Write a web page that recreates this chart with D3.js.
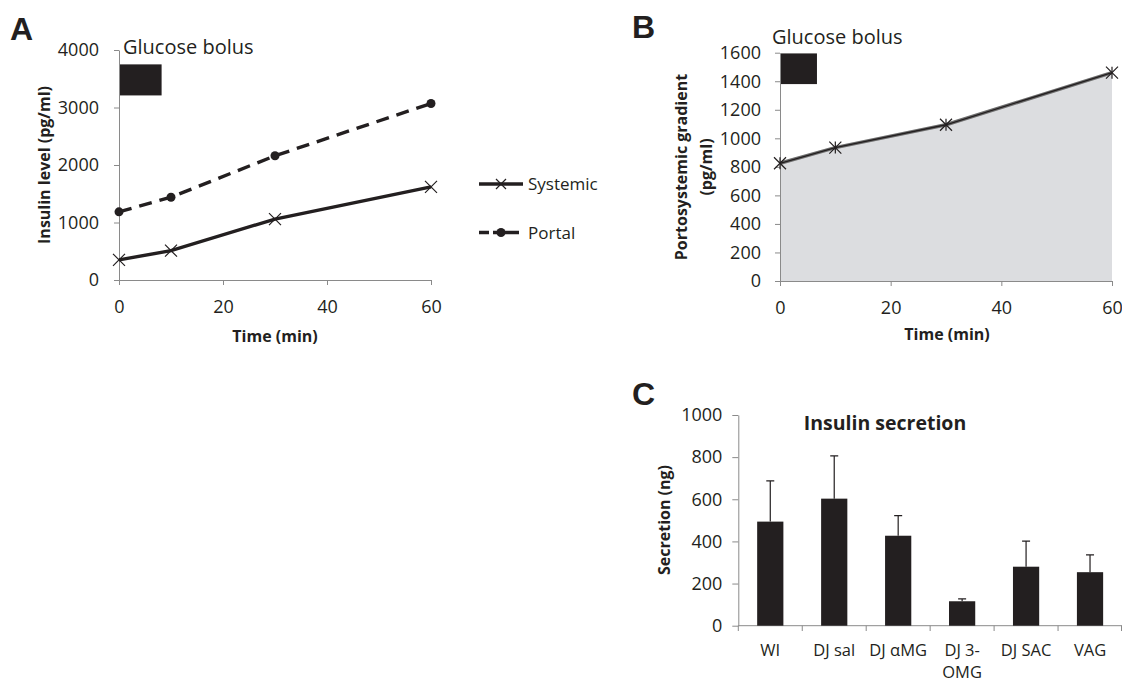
<!DOCTYPE html>
<html>
<head>
<meta charset="utf-8">
<script src="https://cdn.jsdelivr.net/npm/d3@7"></script>
<style>
  body { margin: 0; background: #fff; }
  svg { display: block; font-family: "Open Sans", sans-serif; }
  .axis path, .axis line { stroke: #8a8a8a; }
  .axis text { fill: #231f20; }
</style>
</head>
<body>
<svg id="chart" width="1122" height="683"></svg>
<script>
// Panel A data: insulin level over time
const timesA = [0, 10, 30, 60];
const systemic = [350, 510, 1060, 1620];
const portal = [1185, 1440, 2160, 3070];
const ticksA_y = [0, 1000, 2000, 3000, 4000];
const ticksTime = [0, 20, 40, 60];

// Panel B data: portosystemic gradient
const timesB = [0, 10, 30, 60];
const gradient = [825, 935, 1095, 1460];
const ticksB_y = [0, 200, 400, 600, 800, 1000, 1200, 1400, 1600];

// Panel C data: insulin secretion
const groups = ["WI", "DJ sal", "DJ \u03b1MG", "DJ 3-OMG", "DJ SAC", "VAG"];
const secretion = [494, 603, 427, 116, 280, 254];
const secretionErr = [193, 203, 95, 11, 121, 82];
const ticksC_y = [0, 200, 400, 600, 800, 1000];

// glucose bolus bars [start min, end min, bottom, top]
const bolusA = [0, 8, 3210, 3750];
const bolusB = [0, 6.5, 1380, 1595];

const svg = d3.select("#chart");
const ink = "#231f20";
const plain = d3.format("d");

// panel letters
svg.selectAll(".letter")
    .data([["A", 10, 40], ["B", 632, 38], ["C", 632, 405]])
    .join("text")
    .attr("x", d => d[1]).attr("y", d => d[2])
    .attr("font-family", "Liberation Sans, Arial, sans-serif")
    .attr("font-weight", "bold").attr("font-size", 32)
    .attr("fill", ink)
    .text(d => d[0]);

function styleAxis(g, size) {
    g.attr("class", "axis");
    g.selectAll("text").attr("font-size", size).attr("font-family", "Open Sans, sans-serif");
    g.select(".domain").attr("stroke", "#8a8a8a");
}

// x marker helper
function drawX(g, pts, r) {
    g.selectAll(null).data(pts).join("path")
        .attr("d", d => `M${d[0]-r},${d[1]-r}L${d[0]+r},${d[1]+r}M${d[0]-r},${d[1]+r}L${d[0]+r},${d[1]-r}`)
        .attr("stroke", ink).attr("stroke-width", 1.2).attr("fill", "none");
}

// ---------------- Panel A ----------------
const gA = svg.append("g");
const xA = d3.scaleLinear().domain([0, 60]).range([119, 431]);
const yA = d3.scaleLinear().domain([0, 4000]).range([280, 50]);

gA.append("g").attr("transform", "translate(0,280)")
    .call(d3.axisBottom(xA).tickValues(ticksTime).tickSize(5).tickPadding(15).tickSizeOuter(0).tickFormat(plain))
    .call(g => styleAxis(g, 18));
gA.append("g").attr("transform", "translate(119,0)")
    .call(d3.axisLeft(yA).tickValues(ticksA_y).tickSize(5).tickPadding(15).tickSizeOuter(0).tickFormat(plain))
    .call(g => styleAxis(g, 18));

gA.append("rect")
    .attr("x", xA(bolusA[0]) + 1).attr("y", yA(bolusA[3]))
    .attr("width", xA(bolusA[1]) - xA(bolusA[0])).attr("height", yA(bolusA[2]) - yA(bolusA[3]))
    .attr("fill", ink);
gA.append("text").attr("x", 123).attr("y", 54).attr("font-size", 20).attr("fill", ink).text("Glucose bolus");

const lineA = d3.line().x(d => xA(d[0])).y(d => yA(d[1]));
const sysPts = timesA.map((t, i) => [t, systemic[i]]);
const porPts = timesA.map((t, i) => [t, portal[i]]);

gA.append("path").datum(porPts).attr("d", lineA)
    .attr("fill", "none").attr("stroke", ink).attr("stroke-width", 3.4)
    .attr("stroke-dasharray", "13,8");
gA.selectAll(".dot").data(porPts).join("circle")
    .attr("cx", d => xA(d[0])).attr("cy", d => yA(d[1])).attr("r", 4.5).attr("fill", ink);

gA.append("path").datum(sysPts).attr("d", lineA)
    .attr("fill", "none").attr("stroke", ink).attr("stroke-width", 3.4);
drawX(gA, sysPts.map(d => [xA(d[0]), yA(d[1])]), 6);

gA.append("text").attr("transform", "translate(50,165) rotate(-90)")
    .attr("text-anchor", "middle").attr("font-weight", "bold").attr("font-size", 16).attr("fill", ink)
    .text("Insulin level (pg/ml)");
gA.append("text").attr("x", 275).attr("y", 342)
    .attr("text-anchor", "middle").attr("font-weight", "bold").attr("font-size", 16).attr("fill", ink)
    .text("Time (min)");

// legend
const leg = gA.append("g");
leg.append("line").attr("x1", 479).attr("x2", 523).attr("y1", 184).attr("y2", 184)
    .attr("stroke", ink).attr("stroke-width", 3.4);
drawX(leg, [[501, 184]], 5);
leg.append("text").attr("x", 528).attr("y", 190).attr("font-size", 17).attr("fill", ink).text("Systemic");
leg.append("line").attr("x1", 479).attr("x2", 519).attr("y1", 232.5).attr("y2", 232.5)
    .attr("stroke", ink).attr("stroke-width", 3.4).attr("stroke-dasharray", "10,4,40");
leg.append("circle").attr("cx", 501).attr("cy", 232.5).attr("r", 4.5).attr("fill", ink);
leg.append("text").attr("x", 528).attr("y", 239).attr("font-size", 17).attr("fill", ink).text("Portal");

// ---------------- Panel B ----------------
const gB = svg.append("g");
const xB = d3.scaleLinear().domain([0, 60]).range([780, 1112]);
const yB = d3.scaleLinear().domain([0, 1600]).range([281, 52.7]);
const gradPts = timesB.map((t, i) => [t, gradient[i]]);

gB.append("path").datum(gradPts)
    .attr("d", d3.area().x(d => xB(d[0])).y0(yB(0)).y1(d => yB(d[1])))
    .attr("fill", "#dcdde0");

gB.append("g").attr("transform", "translate(0,281)")
    .call(d3.axisBottom(xB).tickValues(ticksTime).tickSize(5).tickPadding(15).tickSizeOuter(0).tickFormat(plain))
    .call(g => styleAxis(g, 18));
gB.append("g").attr("transform", "translate(780,0)")
    .call(d3.axisLeft(yB).tickValues(ticksB_y).tickSize(5).tickPadding(14).tickSizeOuter(0).tickFormat(plain))
    .call(g => styleAxis(g, 18));

gB.append("rect")
    .attr("x", xB(bolusB[0]) + 1).attr("y", yB(bolusB[3]))
    .attr("width", xB(bolusB[1]) - xB(bolusB[0])).attr("height", yB(bolusB[2]) - yB(bolusB[3]))
    .attr("fill", ink);
gB.append("text").attr("x", 772).attr("y", 44).attr("font-size", 20).attr("fill", ink).text("Glucose bolus");

const lineB = d3.line().x(d => xB(d[0])).y(d => yB(d[1]));
gB.append("path").datum(gradPts).attr("d", lineB)
    .attr("fill", "none").attr("stroke", "#6d6d6d").attr("stroke-width", 3.5);
gB.append("path").datum(gradPts).attr("d", lineB)
    .attr("fill", "none").attr("stroke", ink).attr("stroke-width", 1.3);
const bPx = gradPts.map(d => [xB(d[0]), yB(d[1])]);
drawX(gB, bPx, 6);
gB.selectAll(".vt").data(bPx).join("line")
    .attr("x1", d => d[0]).attr("x2", d => d[0]).attr("y1", d => d[1] - 6).attr("y2", d => d[1] + 6)
    .attr("stroke", ink).attr("stroke-width", 1.2);

const yTitleB = gB.append("text").attr("transform", "translate(0,167) rotate(-90)")
    .attr("text-anchor", "middle").attr("font-weight", "bold").attr("font-size", 16).attr("fill", ink);
yTitleB.append("tspan").attr("x", 0).attr("y", 687).text("Portosystemic gradient");
yTitleB.append("tspan").attr("x", 0).attr("y", 712).text("(pg/ml)");
gB.append("text").attr("x", 947).attr("y", 340)
    .attr("text-anchor", "middle").attr("font-weight", "bold").attr("font-size", 16).attr("fill", ink)
    .text("Time (min)");

// ---------------- Panel C ----------------
const gC = svg.append("g");
const xC = d3.scaleBand().domain(groups).range([738.3, 1122]);
const yC = d3.scaleLinear().domain([0, 1000]).range([625.7, 415]);
const barW = xC.bandwidth() * 0.41;

gC.append("g").attr("transform", "translate(738.3,0)")
    .call(d3.axisLeft(yC).tickValues(ticksC_y).tickSize(6).tickPadding(10).tickSizeOuter(0).tickFormat(plain))
    .call(g => styleAxis(g, 18));

// x axis: ticks at band edges, labels at band centres
const xAxisC = gC.append("g").attr("class", "axis");
xAxisC.append("line").attr("x1", 738.3).attr("x2", 1122).attr("y1", 625.7).attr("y2", 625.7).attr("stroke", "#8a8a8a");
xAxisC.selectAll(".edge").data(groups.concat([null])).join("line")
    .attr("x1", (d, i) => i < groups.length ? xC(d) : xC.range()[1] - 0.5)
    .attr("x2", (d, i) => i < groups.length ? xC(d) : xC.range()[1] - 0.5)
    .attr("y1", 625.7).attr("y2", 631).attr("stroke", "#8a8a8a");
const catLabels = xAxisC.selectAll(".cat").data(groups).join("text")
    .attr("text-anchor", "middle").attr("font-size", 16.5).attr("fill", ink);
catLabels.each(function (d) {
    const cx = xC(d) + xC.bandwidth() / 2;
    const parts = d === "DJ 3-OMG" ? ["DJ 3-", "OMG"] : [d];
    parts.forEach((p, j) => {
        d3.select(this).append("tspan").attr("x", cx).attr("y", 656 + j * 22).text(p);
    });
});

gC.selectAll(".err").data(groups).join("path")
    .attr("d", (d, i) => {
        const cx = xC(d) + xC.bandwidth() / 2;
        const y1 = yC(secretion[i]), y2 = yC(secretion[i] + secretionErr[i]);
        return `M${cx},${y1}V${y2}M${cx - 4},${y2}H${cx + 4}`;
    })
    .attr("stroke", ink).attr("stroke-width", 1.2).attr("fill", "none");

gC.selectAll(".bar").data(groups).join("rect")
    .attr("x", d => xC(d) + (xC.bandwidth() - barW) / 2)
    .attr("y", (d, i) => yC(secretion[i]))
    .attr("width", barW)
    .attr("height", (d, i) => yC(0) - yC(secretion[i]))
    .attr("fill", ink);

gC.append("text").attr("x", 885).attr("y", 430)
    .attr("text-anchor", "middle").attr("font-weight", "bold").attr("font-size", 19.5).attr("fill", ink)
    .text("Insulin secretion");
gC.append("text").attr("transform", "translate(670,520) rotate(-90)")
    .attr("text-anchor", "middle").attr("font-weight", "bold").attr("font-size", 16).attr("fill", ink)
    .text("Secretion (ng)");
</script>
</body>
</html>
